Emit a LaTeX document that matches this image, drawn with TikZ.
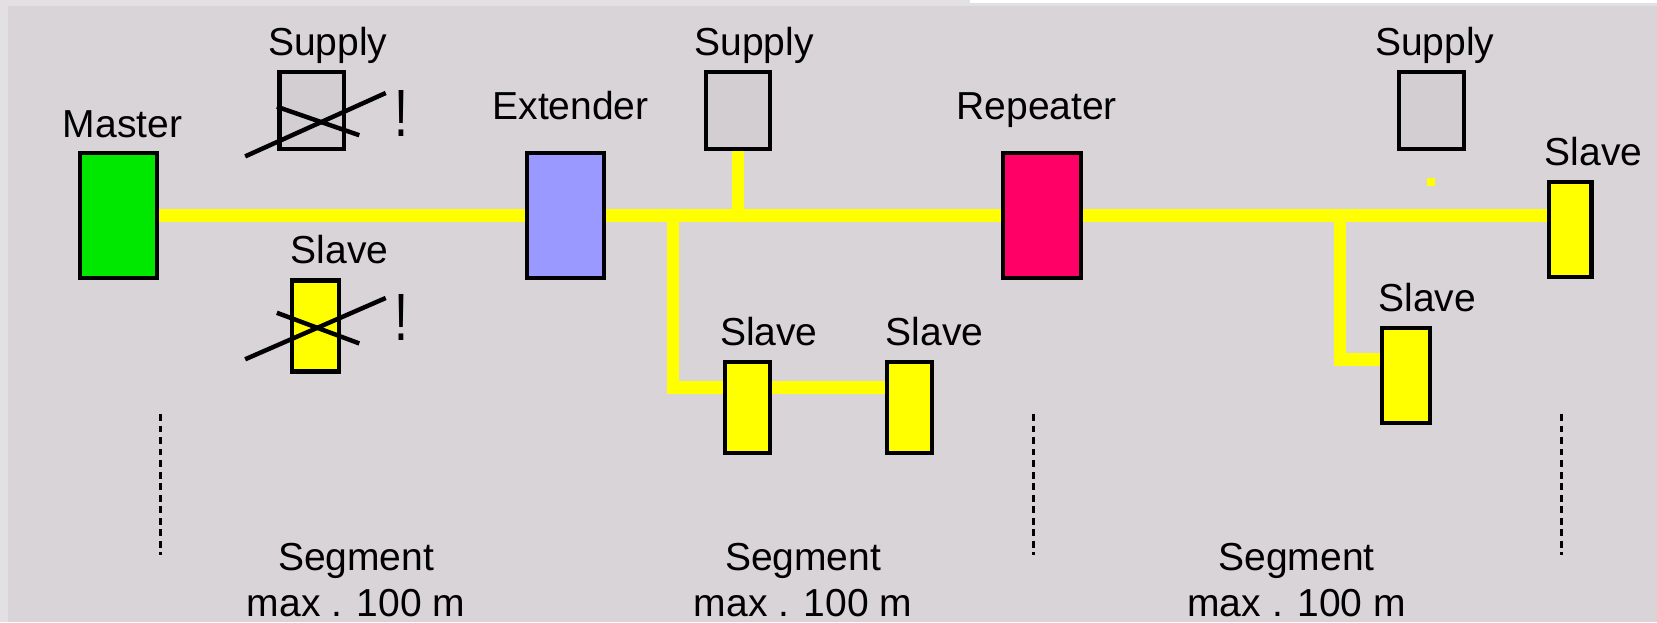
\documentclass[tikz,border=0pt]{standalone}
\usepackage{fontspec}
\setmainfont{Liberation Sans}
\usetikzlibrary{positioning,backgrounds}

\definecolor{panel}{RGB}{216,212,216}
\definecolor{paneledge}{RGB}{226,224,226}
\definecolor{supplygray}{RGB}{210,206,210}
\definecolor{mastergreen}{RGB}{0,232,0}
\definecolor{extblue}{RGB}{153,153,255}
\definecolor{repred}{RGB}{255,0,102}
\definecolor{slaveyellow}{RGB}{255,255,0}

\begin{document}
\begin{tikzpicture}[x=0.01cm, y=-0.01cm,
    font=\fontsize{10.5}{12.2}\selectfont,
    unit/.style={draw, rectangle, line width=1.1pt, inner sep=0pt},
    tall/.style={unit, minimum width=0.73cm, minimum height=1.18cm},
    supply/.style={unit, fill=supplygray, minimum width=0.61cm, minimum height=0.73cm},
    slave/.style={unit, fill=slaveyellow, minimum width=0.42cm, minimum height=0.86cm},
    tag/.style={inner sep=0pt, text height=7.5pt, text depth=0pt},
    warn/.style={inner sep=0pt, font=\fontsize{18}{18}\selectfont},
    bus/.style={slaveyellow, line width=3.4pt},
    cross/.style={line width=1.2pt},
    sep/.style={line width=0.8pt, dash pattern=on 1.8pt off 1.3pt}]
    \useasboundingbox (0,0) rectangle (1568,589);
    \begin{scope}[on background layer]
        \fill[paneledge] (0,0) rectangle (1568,589);
        \fill[panel] (8,6) rectangle (1568,589);
        \fill[white] (918,0) rectangle (1568,3);
    \end{scope}

    % segment 1
    \node (master) [tall, fill=mastergreen] at (112,204) {};
    \node (mastertag) [tag, above=3.4pt of master, xshift=1.1pt] {Master};
    \node (supdead) [supply] at (295,104.5) {};
    \node (supdeadtag) [tag, above=3.7pt of supdead, xshift=4.3pt] {Supply};
    \node (supwarn) [warn] at (380,107.5) {\scalebox{0.75}[1]{!}};
    \node (slvdead) [slave, minimum width=0.45cm] at (298.5,308.5) {};
    \node (slvdeadtag) [tag, above=3.7pt of slvdead, xshift=6.5pt] {Slave};
    \node (slvwarn) [warn] at (380,300) {\scalebox{0.75}[1]{!}};
    \draw[cross] ([shift={(-63,43.5)}]supdead.center) -- ([shift={(70,-16.5)}]supdead.center);
    \draw[cross] ([shift={(-33,-3.5)}]supdead.center) -- ([shift={(45,23.5)}]supdead.center);
    \draw[cross] ([shift={(-66.5,31.5)}]slvdead.center) -- ([shift={(66.5,-26.5)}]slvdead.center);
    \draw[cross] ([shift={(-36.5,-12.5)}]slvdead.center) -- ([shift={(41.5,16.5)}]slvdead.center);

    % segment 2
    \node (ext) [tall, fill=extblue] at (535,204) {};
    \node (exttag) [tag, above=8.2pt of ext, xshift=1.4pt] {Extender};
    \node (supmid) [supply] at (698.5,104.5) {};
    \node (supmidtag) [tag, above=3.7pt of supmid, xshift=4.3pt] {Supply};
    \node (slva) [slave] at (707.5,385.5) {};
    \node (slvatag) [tag, above=3.7pt of slva, xshift=5.7pt] {Slave};
    \node (slvb) [slave] at (860.5,385.5) {};
    \node (slvbtag) [tag, above=3.7pt of slvb, xshift=6.8pt] {Slave};
    \coordinate (tapa) at (637,367);

    % segment 3
    \node (rep) [tall, fill=repred] at (986,204) {};
    \node (reptag) [tag, above=8.2pt of rep, xshift=-1.4pt] {Repeater};
    \node (supright) [supply] at (1354.5,104.5) {};
    \node (suprighttag) [tag, above=3.7pt of supright, xshift=0.9pt] {Supply};
    \node (slvc) [slave, minimum width=0.45cm, minimum height=0.9cm] at (1330.5,355) {};
    \node (slvctag) [tag, above=3.7pt of slvc, xshift=5.7pt] {Slave};
    \node (slvd) [slave, minimum width=0.40cm, minimum height=0.9cm] at (1486,217) {};
    \node (slvdtag) [tag, above=3.7pt of slvd, xshift=6.3pt] {Slave};
    \coordinate (tapb) at (1268,340);
    \fill[slaveyellow] (1350,168) rectangle (1358,176);

    \begin{scope}[on background layer]
        \draw[bus] (master.east) -- (ext.west) (ext.east) -- (rep.west) (rep.east) -- (rep.east -| slvd.west);
        \draw[bus] (supmid.south) -- (supmid.south |- ext.east);
        \draw[bus] (tapa |- ext.east) -- (tapa) -- (tapa -| slva.west);
        \draw[bus] (slva.east |- tapa) -- (slvb.west |- tapa);
        \draw[bus] (tapb |- rep.east) -- (tapb) -- (tapb -| slvc.west);
    \end{scope}

    % segment limits
    \foreach \x in {152,978,1478}
        \draw[sep] (\x,392) -- (\x,525);
    \node (sega) [align=center, inner sep=0pt] at (337,549) {Segment\\max . 100 m};
    \node (segb) [align=center, inner sep=0pt] at (760,549) {Segment\\max . 100 m};
    \node (segc) [align=center, inner sep=0pt] at (1227,549) {Segment\\max . 100 m};
\end{tikzpicture}
\end{document}
